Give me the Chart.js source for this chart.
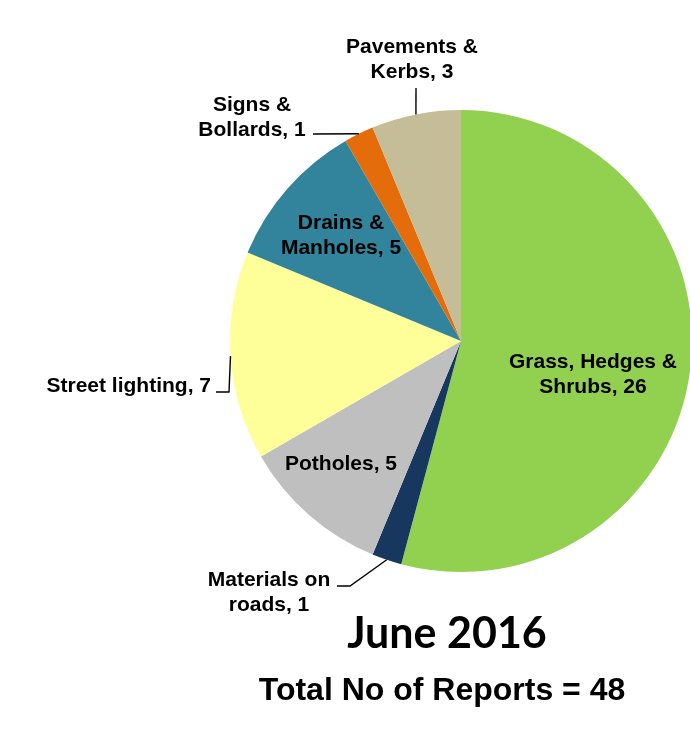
<!DOCTYPE html>
<html>
<head>
<meta charset="utf-8">
<script src="https://cdn.jsdelivr.net/npm/chart.js@4.4.0/dist/chart.umd.min.js"></script>
<style>
  html, body { margin: 0; padding: 0; background: #fff; }
  #wrap { width: 690px; height: 731px; position: relative; }
</style>
</head>
<body>
<div id="wrap"><canvas id="pie" width="690" height="731"></canvas></div>
<script>
// Data
const categories = ["Grass, Hedges &\nShrubs", "Materials on\nroads", "Potholes", "Street lighting", "Drains &\nManholes", "Signs &\nBollards", "Pavements &\nKerbs"];
const reports = [26, 1, 5, 7, 5, 1, 3];
const sliceColours = ["#92D050", "#17375E", "#BFBFBF", "#FFFF99", "#31849B", "#E46C0A", "#C4BD97"];
const monthTitle = "June 2016";

// label placement, offsets from pie centre (px); leader = elbow points after the edge point
const labelLayout = [
  { x: 132, y: 27, leader: null },
  { x: -192, y: 245, leader: [[-111, 245], [-124, 245]] },
  { x: -120, y: 129, leader: null },
  { x: -250, y: 51, align: "right", leader: [[-232, 51], [-245, 51]] },
  { x: -120, y: -112, leader: null },
  { x: -209, y: -230, leader: [[-148, -207]] },
  { x: -49, y: -288, leader: [[-45, -253]] }
];

const labelFont = "bold 21px 'Liberation Sans', Arial, sans-serif";
const lineH = 24.5;

const labelPlugin = {
  id: "sliceLabels",
  afterDraw(chart) {
    const ctx = chart.ctx;
    const meta = chart.getDatasetMeta(0);
    ctx.save();
    ctx.font = labelFont;
    ctx.fillStyle = "#000";
    ctx.strokeStyle = "#000";
    ctx.lineWidth = 1.4;
    meta.data.forEach((arc, i) => {
      const p = arc.getProps(["x", "y", "startAngle", "endAngle", "outerRadius"], true);
      const mid = (p.startAngle + p.endAngle) / 2;
      const lay = labelLayout[i];
      if (lay.leader) {
        ctx.beginPath();
        ctx.moveTo(p.x + Math.cos(mid) * p.outerRadius, p.y + Math.sin(mid) * p.outerRadius);
        lay.leader.forEach(pt => ctx.lineTo(p.x + pt[0], p.y + pt[1]));
        ctx.stroke();
      }
      const lines = (categories[i] + ", " + reports[i]).split("\n");
      ctx.textAlign = lay.align || "center";
      ctx.textBaseline = "alphabetic";
      lines.forEach((ln, k) => {
        ctx.fillText(ln, p.x + lay.x, p.y + lay.y + k * lineH);
      });
    });

    // titles under the pie
    const total = reports.reduce((a, b) => a + b, 0);
    ctx.textAlign = "center";
    ctx.font = "bold 43px Lato, 'Open Sans', sans-serif";
    ctx.fillText(monthTitle, 447, 648);
    ctx.font = "bold 32px 'Liberation Sans', Arial, sans-serif";
    ctx.fillText("Total No of Reports = " + total, 442, 700);
    ctx.restore();
  }
};

new Chart(document.getElementById("pie").getContext("2d"), {
  type: "pie",
  data: {
    labels: categories,
    datasets: [{
      data: reports,
      backgroundColor: sliceColours,
      borderWidth: 0,
      radius: 231
    }]
  },
  options: {
    responsive: false,
    animation: false,
    layout: { padding: { left: 232, right: 0, top: 110, bottom: 159 } },
    plugins: {
      legend: { display: false },
      tooltip: { enabled: false }
    }
  },
  plugins: [labelPlugin]
});
</script>
</body>
</html>
